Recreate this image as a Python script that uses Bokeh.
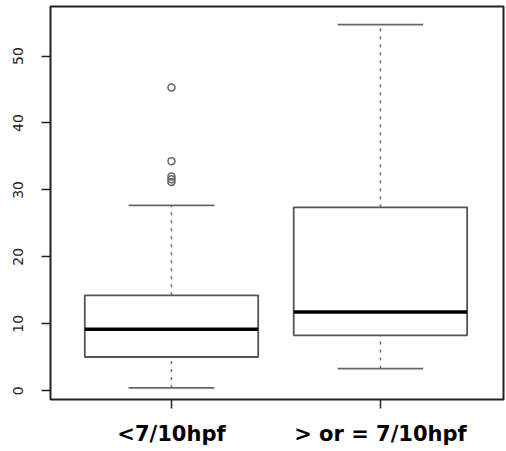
from bokeh.plotting import figure
from bokeh.models import Range1d, FixedTicker, ColumnDataSource
from bokeh.embed import file_html
from bokeh.resources import INLINE
import numpy as np

categories = ["<7/10hpf", "> or = 7/10hpf"]
positions = [1, 2]
lower_whisker = [0.42, 3.31]
q1 = [5.04, 8.28]
median = [9.18, 11.76]
q3 = [14.25, 27.4]
upper_whisker = [27.7, 54.7]
outlier_group = [1, 1, 1, 1, 1]
outlier_values = [45.3, 34.3, 32.0, 31.6, 31.2]
y_ticks = [0, 10, 20, 30, 40, 50]

BOX_W = 0.83
CAP_W = 0.41

p = figure(width=506, height=451, output_backend="svg", toolbar_location=None,
           x_range=Range1d(0.421, 2.589), y_range=Range1d(-1.31, 57.4),
           min_border_left=50, min_border_right=3, min_border_top=6, min_border_bottom=52)
p.background_fill_color = "white"
p.border_fill_color = "white"
p.outline_line_color = "#222222"
p.outline_line_width = 2
p.xgrid.visible = False
p.ygrid.visible = False

pos = np.array(positions, dtype=float)
src = ColumnDataSource(dict(
    x=pos, q1=q1, q3=q3, med=median, lo=lower_whisker, hi=upper_whisker,
    bx0=pos - BOX_W / 2, bx1=pos + BOX_W / 2,
    cx0=pos - CAP_W / 2, cx1=pos + CAP_W / 2,
))

# whiskers (dashed)
p.segment(x0="x", y0="q3", x1="x", y1="hi", source=src, line_color="#777777",
          line_width=1.6, line_dash="3 5")
p.segment(x0="x", y0="lo", x1="x", y1="q1", source=src, line_color="#777777",
          line_width=1.6, line_dash="3 5")
# caps
p.segment(x0="cx0", y0="hi", x1="cx1", y1="hi", source=src, line_color="#666666", line_width=1.8)
p.segment(x0="cx0", y0="lo", x1="cx1", y1="lo", source=src, line_color="#666666", line_width=1.8)
# boxes
p.vbar(x="x", width=BOX_W, top="q3", bottom="q1", source=src, fill_color="white",
       line_color="#555555", line_width=1.8)
# medians
p.segment(x0="bx0", y0="med", x1="bx1", y1="med", source=src, line_color="black", line_width=3.4)
# outliers
p.scatter(x=outlier_group, y=outlier_values, marker="circle", size=7, fill_color=None,
          line_color="#666666", line_width=1.5)

# axes
p.yaxis.ticker = FixedTicker(ticks=y_ticks)
p.yaxis.major_label_orientation = "vertical"
p.yaxis.axis_line_color = None
p.yaxis.major_tick_out = 9
p.yaxis.major_tick_in = 0
p.yaxis.minor_tick_line_color = None
p.yaxis.major_tick_line_color = "#222222"
p.yaxis.major_tick_line_width = 1.5
p.yaxis.major_label_standoff = 18
p.yaxis.major_label_text_font = "DejaVu Sans"
p.yaxis.major_label_text_font_size = "14px"
p.yaxis.major_label_text_color = "#222222"

p.xaxis.ticker = FixedTicker(ticks=positions)
p.xaxis.major_label_overrides = {pv: c for pv, c in zip(positions, categories)}
p.xaxis.axis_line_color = None
p.xaxis.major_tick_out = 9
p.xaxis.major_tick_in = 0
p.xaxis.minor_tick_line_color = None
p.xaxis.major_tick_line_color = "#222222"
p.xaxis.major_tick_line_width = 1.5
p.xaxis.major_label_standoff = 13
p.xaxis.major_label_text_font = "DejaVu Sans"
p.xaxis.major_label_text_font_style = "bold"
p.xaxis.major_label_text_font_size = "21px"
p.xaxis.major_label_text_color = "black"

open("out.html", "w").write(file_html(p, INLINE))
